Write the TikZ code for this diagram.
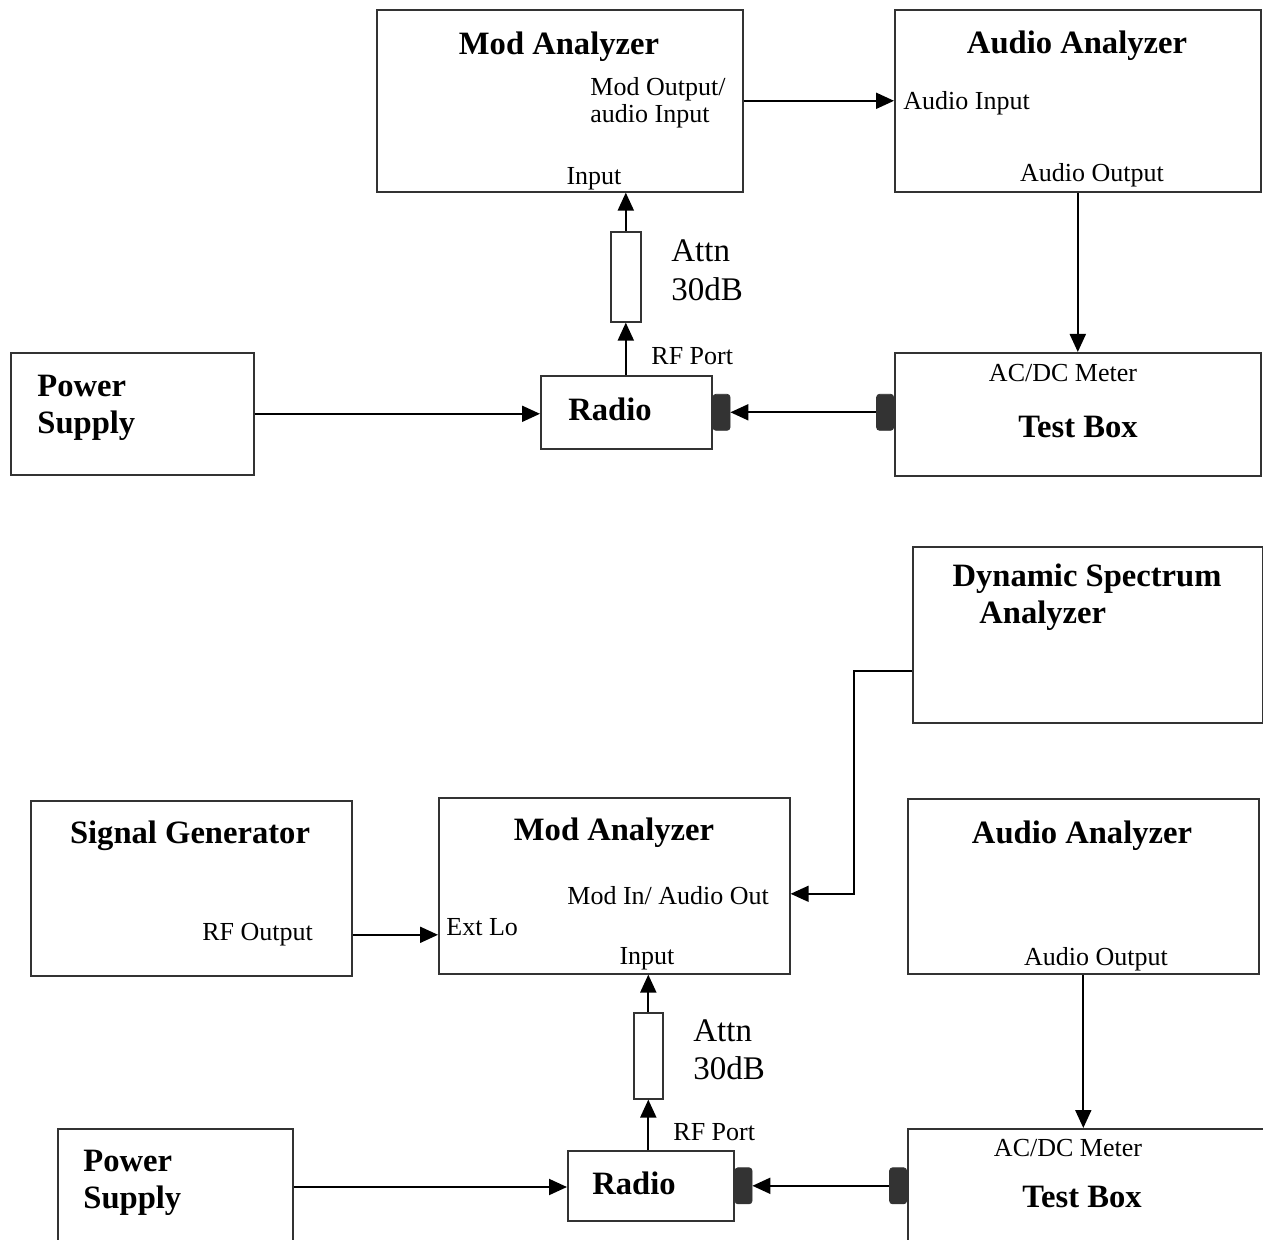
\documentclass[tikz,border=0pt]{standalone}
\usepackage{fontspec}
\setmainfont{Liberation Serif}
\usetikzlibrary{arrows.meta,calc}

\begin{document}
\begin{tikzpicture}[
			x=0.5pt, y=-0.5pt,
			box/.style={draw=black!80, line width=0.8pt, inner sep=0pt, anchor=north west},
			tab/.style={draw=black!80, fill=black!80, rounded corners=1.5pt, inner sep=0pt, minimum width=8.5pt, minimum height=18pt},
			conn/.style={line width=1pt, -{Triangle[length=9pt,width=8pt]}},
			thin conn/.style={conn, line width=0.75pt},
			title node/.style={font=\fontsize{16.3}{19.5}\selectfont\bfseries, inner sep=0pt},
			label node/.style={font=\fontsize{13}{15.5}\selectfont, inner sep=0pt},
			attn node/.style={font=\fontsize{16.5}{19}\selectfont, inner sep=0pt}
			]
			\useasboundingbox (0,0) rectangle (1263,1240);
			\clip (0,0) rectangle (1263,1240);
			
			% upper set-up
			\node[box, minimum width=183pt, minimum height=91pt] (modA) at (376,9) {};
			\node[box, minimum width=183pt, minimum height=91pt] (audA) at (894,9) {};
			\node[box, minimum width=15pt, minimum height=45pt] (attnA) at (610,231) {};
			\node[box, minimum width=85.5pt, minimum height=36.5pt] (radioA) at (540,375) {};
			\node[box, minimum width=183pt, minimum height=61.5pt] (testA) at (894,352) {};
			\node[box, minimum width=121.5pt, minimum height=61pt] (powerA) at (10,352) {};
			\node[tab, anchor=west] (tabRA) at (radioA.east) {};
			\node[tab, anchor=east] (tabTA) at (testA.west |- radioA.east) {};
			
			\node[title node, anchor=base] (modAT) at (559,55) {Mod Analyzer};
			\node[label node, anchor=base west] (modAo1) at (590,96) {Mod Output/};
			\node[label node, anchor=base west] (modAo2) at (590,123) {audio Input};
			\node[label node, anchor=base] (modAin) at (594,185) {Input};
			\node[title node, anchor=base] (audAT) at (1077,54) {Audio Analyzer};
			\node[label node, anchor=base west] (audAin) at (903,110) {Audio Input};
			\node[label node, anchor=base] (audAout) at (1092,182) {Audio Output};
			\node[attn node, anchor=base west] (attnA1) at (671,262) {Attn};
			\node[attn node, anchor=base west] (attnA2) at (671,301) {30dB};
			\node[label node, anchor=base west] (rfA) at (651,365) {RF Port};
			\node[title node, anchor=base] (radioAT) at (610,421) {Radio};
			\node[label node, anchor=base] (meterA) at (1063,382) {AC/DC Meter};
			\node[title node, anchor=base] (testAT) at (1078,438) {Test Box};
			\node[title node, anchor=base west] (powerA1) at (37,397) {Power};
			\node[title node, anchor=base west] (powerA2) at (37,434) {Supply};
			
			\draw[conn] (modA.east) -- (audA.west);
			\draw[conn] (audA.south) -- (testA.north);
			\draw[conn] (radioA.north -| attnA) -- (attnA.south);
			\draw[conn] (attnA.north) -- (attnA.north |- modA.south);
			\draw[conn] (powerA.east) -- (powerA.east -| radioA.west);
			\draw[conn] (tabTA.west) -- (tabRA.east);
			
			% lower set-up
			\node[box, minimum width=175pt, minimum height=88pt] (dsa) at (912,546) {};
			\node[box, minimum width=160.5pt, minimum height=87.5pt] (sigGen) at (30,800) {};
			\node[box, minimum width=175.5pt, minimum height=88pt] (modB) at (438,797) {};
			\node[box, minimum width=175.5pt, minimum height=87.5pt] (audB) at (907,798) {};
			\node[box, minimum width=14.5pt, minimum height=43pt] (attnB) at (633,1012) {};
			\node[box, minimum width=83pt, minimum height=35pt] (radioB) at (567,1150) {};
			\node[box, minimum width=180pt, minimum height=100pt] (testB) at (907,1128) {};
			\node[box, minimum width=117.5pt, minimum height=100pt] (powerB) at (57,1128) {};
			\node[tab, anchor=west] (tabRB) at (radioB.east) {};
			\node[tab, anchor=east] (tabTB) at (testB.west |- radioB.east) {};
			
			\node[title node, anchor=base] (dsaT1) at (1087,587) {Dynamic Spectrum};
			\node[title node, anchor=base west] (dsaT2) at (979,624) {Analyzer};
			\node[title node, anchor=base] (sigGenT) at (190,843) {Signal Generator};
			\node[label node, anchor=base west] (sigGenOut) at (202,940) {RF Output};
			\node[title node, anchor=base] (modBT) at (614,840) {Mod Analyzer};
			\node[label node, anchor=base west] (modBio) at (567,904) {Mod In/ Audio Out};
			\node[label node, anchor=base west] (modBlo) at (446,935) {Ext Lo};
			\node[label node, anchor=base] (modBin) at (647,964) {Input};
			\node[title node, anchor=base] (audBT) at (1082,843) {Audio Analyzer};
			\node[label node, anchor=base] (audBout) at (1096,965) {Audio Output};
			\node[attn node, anchor=base west] (attnB1) at (693,1041) {Attn};
			\node[attn node, anchor=base west] (attnB2) at (693,1079) {30dB};
			\node[label node, anchor=base west] (rfB) at (673,1140) {RF Port};
			\node[title node, anchor=base] (radioBT) at (634,1194) {Radio};
			\node[label node, anchor=base] (meterB) at (1068,1156) {AC/DC Meter};
			\node[title node, anchor=base] (testBT) at (1082,1207) {Test Box};
			\node[title node, anchor=base west] (powerB1) at (83,1171) {Power};
			\node[title node, anchor=base west] (powerB2) at (83,1208) {Supply};
			
			\coordinate (dsaBend) at ([xshift=-29pt, yshift=-18pt]dsa.west);
			\draw[thin conn] ([yshift=-18pt]dsa.west) -- (dsaBend) |- ([yshift=-4pt]modB.east);
			\draw[conn] ([yshift=-23.25pt]sigGen.east) -- ([yshift=-23.25pt]sigGen.east -| modB.west);
			\draw[conn] (radioB.north -| attnB) -- (attnB.south);
			\draw[conn] (attnB.north) -- (attnB.north |- modB.south);
			\draw[conn] (audB.south) -- (audB.south |- testB.north);
			\draw[conn] ([yshift=-29.5pt]powerB.north east) -- ([yshift=-29.5pt]powerB.north east -| radioB.west);
			\draw[conn] (tabTB.west) -- (tabRB.east);
		\end{tikzpicture}
\end{document}
